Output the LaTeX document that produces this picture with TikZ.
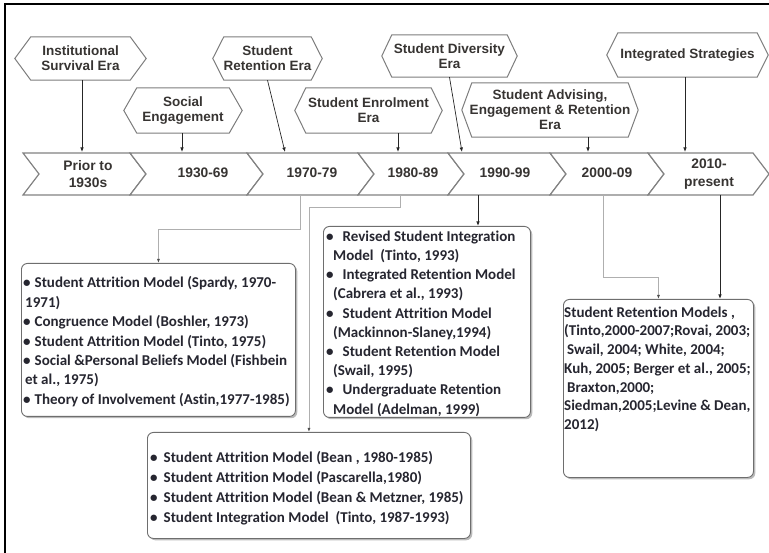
\documentclass[tikz,border=0pt]{standalone}
\usepackage{fontspec}
\setmainfont{Liberation Sans}
\newfontfamily\carl[Ligatures=NoCommon]{Carlito}
\usetikzlibrary{arrows.meta,shadows}
\definecolor{hexText}{RGB}{55,52,50}
\definecolor{hexGray}{RGB}{125,125,125}
\definecolor{chevGray}{RGB}{130,130,130}
\definecolor{boxGray}{RGB}{110,110,110}
\definecolor{boxText}{RGB}{38,38,48}
\definecolor{lightLine}{RGB}{175,175,175}
\newcommand{\hexframe}[2]{%
  \draw[hexline] ([xshift=#2]#1.north west) -- ([xshift=-#2]#1.north east) -- (#1.east)
    -- ([xshift=-#2]#1.south east) -- ([xshift=#2]#1.south west) -- (#1.west) -- cycle;}
\newcommand{\chevron}[2]{%
  \draw[chev] (#1,153) -- (#2,153) -- (#2+16,174) -- (#2,195) -- (#1,195) -- (#1+16,174) -- cycle;}
\tikzset{
  hexlbl/.style={inner sep=0pt, align=center, font=\bfseries\fontsize{13.5}{15}\selectfont, text=hexText},
  hexline/.style={draw=hexGray, line width=1pt},
  chev/.style={draw=chevGray, line width=1.2pt, fill=white, line join=miter},
  chevlbl/.style={inner sep=0pt, align=center, font=\bfseries\fontsize{13.8}{17.5}\selectfont, text=hexText},
  era/.style={draw=black!85, line width=0.7pt, -{Latex[length=4.5pt,width=3.5pt]}},
  lconn/.style={draw=lightLine, line width=0.9pt, -{Latex[length=4pt,width=3pt,color=black!70]}},
  dconn/.style={draw=black!85, line width=0.9pt, -{Latex[length=4.5pt,width=3.5pt]}},
  mbox/.style={draw=boxGray, rounded corners=6pt, fill=white, line width=0.9pt, inner sep=0pt,
    anchor=north west, drop shadow={shadow xshift=1.8pt, shadow yshift=-1.8pt, fill=black!45, opacity=0.6}},
  mtext/.style={anchor=north west, inner sep=0pt, align=left, text=boxText,
    font=\carl\bfseries\fontsize{15}{19.4}\selectfont},
}
\begin{document}
\begin{tikzpicture}[x=1pt,y=-1pt]
\useasboundingbox (0,0) rectangle (769,553);
% outer frame
\draw[line width=1.6pt] (5,553) -- (5,4) -- (769,4);

% timeline chevrons
\chevron{23}{130}
\chevron{130}{247}
\chevron{247}{358}
\chevron{358}{448}
\chevron{448}{550}
\chevron{550}{648}
\chevron{648}{753}
\node[chevlbl] (l1) at (88,174) {Prior to\\1930s};
\node[chevlbl] (l2) at (203,173) {1930-69};
\node[chevlbl] (l3) at (312,173) {1970-79};
\node[chevlbl] (l4) at (413,173) {1980-89};
\node[chevlbl] (l5) at (505,173) {1990-99};
\node[chevlbl] (l6) at (607,173) {2000-09};
\node[chevlbl] (l7) at (709,174) {2010-\\present};

% era hexagons
\node[hexlbl, minimum width=131, minimum height=43] (h1) at (80.5,58.5) {Institutional\\Survival Era};
\node[hexlbl, minimum width=118, minimum height=45] (h2) at (183,110.5) {Social\\Engagement};
\node[hexlbl, minimum width=109, minimum height=43] (h3) at (267.5,58.5) {Student\\Retention Era};
\node[hexlbl, minimum width=147, minimum height=45] (h4) at (368.5,110.5) {Student Enrolment\\Era};
\node[hexlbl, minimum width=135, minimum height=42] (h5) at (449.5,56) {Student Diversity\\Era};
\node[hexlbl, minimum width=176, minimum height=54] (h6) at (550,110) {Student Advising,\\Engagement \& Retention\\Era};
\node[hexlbl, minimum width=161, minimum height=44] (h7) at (687.5,55) {Integrated Strategies};
\hexframe{h1}{16}
\hexframe{h2}{13}
\hexframe{h3}{11}
\hexframe{h4}{11}
\hexframe{h5}{10}
\hexframe{h6}{10}
\hexframe{h7}{11}

% arrow targets on the timeline
\coordinate (a1) at (82,152);
\coordinate (a2) at (182,152);
\coordinate (a3) at (285,152);
\coordinate (a4) at (398,152);
\coordinate (a5) at (462,152);
\coordinate (a6) at (588,152);
\coordinate (a7) at (685,152);
\draw[era] (h1.south -| a1) -- (a1);
\draw[era] (h2.south -| a2) -- (a2);
\draw[era] (h3.south) -- (a3);
\draw[era] (h4.south -| a4) -- (a4);
\draw[era] (h5.south) -- (a5);
\draw[era] (h6.south -| a6) -- (a6);
\draw[era] (h7.south -| a7) -- (a7);

% model boxes
\node[mbox, minimum width=274, minimum height=153] (bA) at (21,263) {};
\node[mbox, minimum width=207, minimum height=191] (bB) at (323,226) {};
\node[mbox, minimum width=190, minimum height=178] (bC) at (563,299) {};
\node[mbox, minimum width=323, minimum height=106] (bD) at (147,432) {};

\node[mtext] (tA) at (23,276.5) {%
•\hspace{4pt}Student Attrition Model (Spardy, 1970-\\
\hspace{2pt}1971)\\
•\hspace{4pt}Congruence Model (Boshler, 1973)\\
•\hspace{4pt}Student Attrition Model (Tinto, 1975)\\
•\hspace{4pt}Social \&Personal Beliefs Model (Fishbein\\
\hspace{2pt}et al., 1975)\\
•\hspace{4pt}Theory of Involvement (Astin,1977-1985)};

\node[mtext, font=\carl\bfseries\fontsize{15}{19.2}\selectfont] (tB) at (326,230.5) {%
•\hspace{9pt}Revised Student Integration\\
\hspace{7pt}Model\ \ (Tinto, 1993)\\
•\hspace{9pt}Integrated Retention Model\\
\hspace{7pt}(Cabrera et al., 1993)\\
•\hspace{9pt}Student Attrition Model\\
\hspace{7pt}(Mackinnon-Slaney,1994)\\
•\hspace{9pt}Student Retention Model\\
\hspace{7pt}(Swail, 1995)\\
•\hspace{9pt}Undergraduate Retention\\
\hspace{7pt}Model (Adelman, 1999)};

\node[mtext, font=\carl\bfseries\fontsize{15}{18.7}\selectfont] (tC) at (564,306.5) {%
Student Retention Models ,\\
(Tinto,2000-2007;Rovai, 2003;\\
\hspace{3pt}Swail, 2004; White, 2004;\\
Kuh, 2005; Berger et al., 2005;\\
\hspace{3pt}Braxton,2000;\\
Siedman,2005;Levine \& Dean,\\
2012)};

\node[mtext, font=\carl\bfseries\fontsize{15}{19.8}\selectfont] (tD) at (150,451.5) {%
•\hspace{6pt}Student Attrition Model (Bean , 1980-1985)\\
•\hspace{6pt}Student Attrition Model (Pascarella,1980)\\
•\hspace{6pt}Student Attrition Model (Bean \& Metzner, 1985)\\
•\hspace{6pt}Student Integration Model\ \ (Tinto, 1987-1993)};

% connectors from the timeline to the boxes
\coordinate (t3b) at (300,195);
\coordinate (t4b) at (400,195);
\coordinate (t5b) at (478,195);
\coordinate (t6b) at (603,195);
\coordinate (t7b) at (720,195);
\draw[lconn] (t3b) -- ++(0,34) -| (bA.north);
\draw[lconn] (t4b) -- ++(0,12) -| (bD.north);
\draw[dconn] (t5b) -- (t5b |- bB.north);
\draw[lconn] (t6b) -- ++(0,82) -| (bC.north);
\draw[dconn] (t7b) -- (t7b |- bC.north);
\end{tikzpicture}
\end{document}
